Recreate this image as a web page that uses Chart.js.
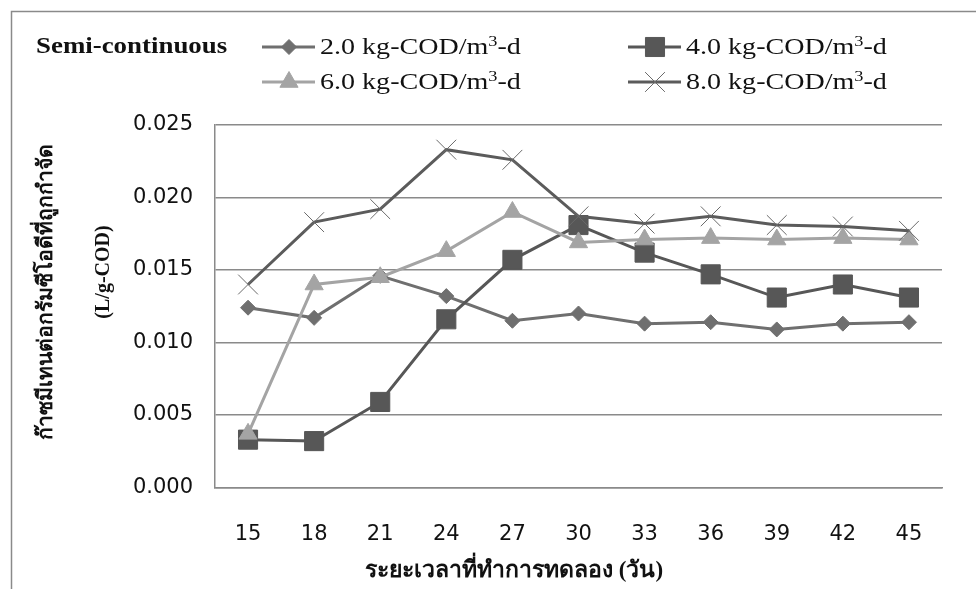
<!DOCTYPE html>
<html>
<head>
<meta charset="utf-8">
<script src="https://cdn.jsdelivr.net/npm/chart.js@4/dist/chart.umd.min.js"></script>
<style>
  html, body { margin: 0; padding: 0; background: #ffffff; }
  #wrap { position: relative; width: 976px; height: 589px; }
</style>
</head>
<body>
<div id="wrap"><canvas id="chart"></canvas></div>
<script>
// Days of the semi-continuous run
const days = ['15', '18', '21', '24', '27', '30', '33', '36', '39', '42', '45'];

// Methane yield (L/g-COD removed) at each organic loading rate
const load2 = [0.0124, 0.0117, 0.0146, 0.0132, 0.0115, 0.0120, 0.0113, 0.0114, 0.0109, 0.0113, 0.0114];
const load4 = [0.0033, 0.0032, 0.0059, 0.0116, 0.0157, 0.0181, 0.0162, 0.0147, 0.0131, 0.0140, 0.0131];
const load6 = [0.0037, 0.0140, 0.0145, 0.0163, 0.0190, 0.0169, 0.0171, 0.0172, 0.0171, 0.0172, 0.0171];
const load8 = [0.0140, 0.0183, 0.0192, 0.0233, 0.0226, 0.0187, 0.0182, 0.0187, 0.0181, 0.0180, 0.0177];

// Loading-rate labels (value part, the unit is drawn with a superscript)
const loadLabels = ['2.0', '4.0', '6.0', '8.0'];

// Y axis ticks
const yMin = 0, yMax = 0.025, yStep = 0.005;

const titleX = 'ระยะเวลาที่ทำการทดลอง (วัน)';
const titleY1 = 'ก๊าซมีเทนต่อกรัมซีโอดีที่ถูกกำจัด';
const titleY2 = '(L/g-COD)';
const modeLabel = 'Semi-continuous';

const SERIF = '"Liberation Serif", "Times New Roman", serif';
const SANS = '"DejaVu Sans", sans-serif';

const styles = [
  { line: '#6f6f6f', fill: '#6f6f6f', point: 'rectRot', r: 7.5, pbw: 1 },
  { line: '#575757', fill: '#575757', point: 'rect', r: 13.5, pbw: 1 },
  { line: '#a4a4a4', fill: '#a4a4a4', point: 'triangle', r: 10.5, pbw: 1 },
  { line: '#5b5b5b', fill: '#5b5b5b', point: 'crossRot', r: 14, pbw: 1, pborder: '#6a6a6a' }
];
const series = [load2, load4, load6, load8];

const datasets = series.map((vals, i) => ({
  label: loadLabels[i] + ' kg-COD/m3-d',
  data: vals,
  borderColor: styles[i].line,
  borderWidth: 3,
  backgroundColor: styles[i].fill,
  pointStyle: styles[i].point,
  pointRadius: styles[i].r,
  pointHoverRadius: styles[i].r,
  pointBackgroundColor: styles[i].fill,
  pointBorderColor: styles[i].pborder || styles[i].fill,
  pointBorderWidth: styles[i].pbw,
  tension: 0,
  fill: false,
  order: 4 - i
}));

// Draws the frame, the legend block and both axis titles
const decorations = {
  id: 'decorations',
  afterDraw(chart) {
    const ctx = chart.ctx;
    ctx.save();

    // outer frame
    ctx.strokeStyle = '#8a8a8a';
    ctx.lineWidth = 1.5;
    ctx.beginPath();
    ctx.moveTo(11.5, chart.height + 2);
    ctx.lineTo(11.5, 11.5);
    ctx.lineTo(chart.width + 2, 11.5);
    ctx.stroke();

    // mode label
    ctx.fillStyle = '#111';
    ctx.textBaseline = 'alphabetic';
    ctx.textAlign = 'left';
    ctx.save();
    ctx.translate(36, 53);
    ctx.scale(1.12, 1);
    ctx.font = 'bold 24px ' + SERIF;
    ctx.fillText(modeLabel, 0, 0);
    ctx.restore();

    // legend entries: 2 columns x 2 rows
    const cols = [262, 628];
    const rows = [47, 82];
    chart.data.datasets.forEach((ds, i) => {
      const cx = cols[i % 2];
      const cy = rows[Math.floor(i / 2)];
      ctx.strokeStyle = ds.borderColor;
      ctx.lineWidth = 3;
      ctx.beginPath();
      ctx.moveTo(cx, cy);
      ctx.lineTo(cx + 53, cy);
      ctx.stroke();
      const opts = {
        pointStyle: ds.pointStyle,
        radius: ds.pointRadius,
        borderWidth: ds.pointBorderWidth,
        rotation: 0
      };
      ctx.fillStyle = ds.pointBackgroundColor;
      ctx.strokeStyle = ds.pointBorderColor;
      ctx.lineWidth = ds.pointBorderWidth;
      Chart.helpers.drawPoint(ctx, opts, cx + 27, cy);

      // label text with superscript 3
      ctx.save();
      ctx.translate(cx + 58, cy + 7);
      ctx.scale(1.22, 1);
      ctx.fillStyle = '#111';
      ctx.font = '23px ' + SERIF;
      let x = 0;
      const main = loadLabels[i] + ' kg-COD/m';
      ctx.fillText(main, x, 0);
      x += ctx.measureText(main).width;
      ctx.font = '15px ' + SERIF;
      ctx.fillText('3', x, -8);
      x += ctx.measureText('3').width;
      ctx.font = '23px ' + SERIF;
      ctx.fillText('-d', x, 0);
      ctx.restore();
    });

    // y axis title, two rotated lines
    ctx.fillStyle = '#111';
    ctx.textAlign = 'center';
    ctx.textBaseline = 'middle';
    ctx.save();
    ctx.translate(47, 292);
    ctx.rotate(-Math.PI / 2);
    ctx.font = 'bold 21px ' + SERIF;
    ctx.fillText(titleY1, 0, 0);
    ctx.restore();
    ctx.save();
    ctx.translate(104, 272);
    ctx.rotate(-Math.PI / 2);
    ctx.font = 'bold 20px ' + SERIF;
    ctx.fillText(titleY2, 0, 0);
    ctx.restore();

    // x axis title
    ctx.font = 'bold 23px ' + SERIF;
    ctx.textBaseline = 'alphabetic';
    ctx.fillText(titleX, 514, 577);

    ctx.restore();
  }
};

new Chart(document.getElementById('chart'), {
  type: 'line',
  data: { labels: days, datasets },
  options: {
    responsive: true,
    maintainAspectRatio: false,
    animation: false,
    devicePixelRatio: 1,
    layout: { padding: { top: 125, right: 34, bottom: 0, left: 0 } },
    plugins: {
      legend: { display: false },
      title: { display: false },
      tooltip: { enabled: false }
    },
    scales: {
      x: {
        type: 'category',
        offset: true,
        grid: { display: false, drawTicks: false },
        border: { display: true, color: '#8a8a8a', width: 1.5 },
        ticks: { color: '#111', font: { family: SANS, size: 21 }, padding: 34, maxRotation: 0, autoSkip: false },
        afterFit(scale) { scale.height = 101.5; }
      },
      y: {
        min: yMin,
        max: yMax,
        grid: { color: '#8a8a8a', lineWidth: 1.5, drawTicks: false },
        border: { display: true, color: '#8a8a8a', width: 1.5 },
        ticks: {
          stepSize: yStep,
          color: '#111',
          font: { family: SANS, size: 21 },
          padding: 22,
          callback: (v) => v.toFixed(3)
        },
        afterFit(scale) { scale.width = 215; }
      }
    }
  },
  plugins: [decorations]
});
</script>
</body>
</html>
